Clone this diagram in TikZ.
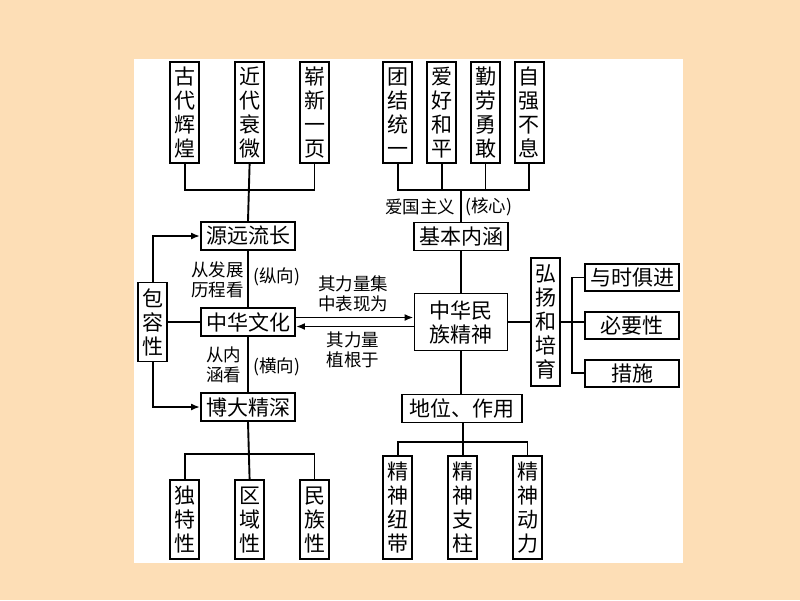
\documentclass[tikz,border=0pt]{standalone}
\usepackage{fontspec}
\newfontfamily\cjk{Noto Sans CJK SC}
\usetikzlibrary{positioning, arrows.meta}
\definecolor{peach}{RGB}{253,222,182}

\begin{document}
\begin{tikzpicture}[
  x=1pt, y=-1pt,
  box/.style={draw, line width=1.9pt, fill=white, inner sep=0pt, align=center, font=\cjk\fontsize{21}{24}\selectfont},
  vbox/.style={box, minimum width=29pt},
  hbox/.style={box, minimum width=94pt, minimum height=28pt},
  lbl/.style={inner sep=0pt, align=center, font=\cjk\fontsize{17.5}{20.5}\selectfont},
  link/.style={line width=1.9pt},
  arr/.style={link, -{Latex[length=9pt, width=7pt]}}
]
\fill[peach] (0,0) rectangle (800,600);
\fill[white] (134,59) rectangle (683,563);
\useasboundingbox (0,0) rectangle (800,600);

% left column
\node[vbox, minimum height=101pt] (gudai) at (184.7,112.5) {古\\代\\辉\\煌};
\node[vbox, minimum height=101pt, right=34pt of gudai] (jindai) {近\\代\\衰\\微};
\node[vbox, minimum height=101pt, right=34pt of jindai] (zhanxin) {崭\\新\\一\\页};
\node[hbox] (yuan) at (248,236) {源远流长};
\node[hbox] (wenhua) at (248,322) {中华文化};
\node[hbox] (boda) at (248,407) {博大精深};
\node[vbox, minimum height=79pt] (baorong) at (152.7,322) {包\\容\\性};
\node[vbox, minimum height=79pt] (dute) at (184.7,519.7) {独\\特\\性};
\node[vbox, minimum height=79pt, right=34pt of dute] (quyu) {区\\域\\性};
\node[vbox, minimum height=79pt, right=34pt of quyu] (minzu) {民\\族\\性};

% right column
\node[vbox, minimum height=101pt] (tuanjie) at (397.7,112.5) {团\\结\\统\\一};
\node[vbox, minimum height=101pt, right=13pt of tuanjie] (aihao) {爱\\好\\和\\平};
\node[vbox, minimum height=101pt, right=13pt of aihao] (qinlao) {勤\\劳\\勇\\敢};
\node[vbox, minimum height=101pt, right=13pt of qinlao] (ziqiang) {自\\强\\不\\息};
\node[hbox] (jiben) at (461,236.5) {基本内涵};
\node[box, minimum width=93pt, minimum height=57pt] (jingshen) at (461,322) {中华民\\族精神};
\node[hbox, minimum width=120pt] (diwei) at (462,408.5) {地位、作用};
\node[vbox, minimum height=103pt] (niudai) at (397.7,507.5) {精\\神\\纽\\带};
\node[vbox, minimum height=103pt, right=34pt of niudai] (zhizhu) {精\\神\\支\\柱};
\node[vbox, minimum height=103pt, right=34pt of zhizhu] (dongli) {精\\神\\动\\力};
\node[vbox, minimum height=128pt] (hongyang) at (545.5,322.3) {弘\\扬\\和\\培\\育};
\node[hbox, minimum height=27pt] (yushi) at (632,277.5) {与时俱进};
\node[hbox, minimum height=27pt, below=19pt of yushi] (biyao) {必要性};
\node[hbox, minimum height=27pt, below=19pt of biyao] (cuoshi) {措施};

% labels
\node[lbl] (lifazhan) at (217.5,280) {从发展\\历程看};
\node[lbl] (lizong) at (276.5,277) {(纵向)};
\node[lbl] (lineihan) at (223.5,365) {从内\\涵看};
\node[lbl] (liheng) at (276.5,367) {(横向)};
\node[lbl] (lijizhong) at (353,294) {其力量集\\中表现为};
\node[lbl] (lizhigen) at (353,350) {其力量\\植根于};
\node[lbl] (liaiguo) at (420,207) {爱国主义};
\node[lbl] (lihexin) at (488.5,207) {(核心)};

% buses
\coordinate (busA) at (248,190);
\coordinate (busB) at (248,454);
\coordinate (busC) at (461,190);
\coordinate (busD) at (461,441.7);
\coordinate (busE) at (572,322.3);

\draw[link] (gudai.south) |- (busA) -| (zhanxin.south);
\draw[link] (jindai.south) -- (yuan.north);
\draw[link] (yuan.south) -- (wenhua.north);
\draw[link] (wenhua.south) -- (boda.north);
\draw[link] (boda.south) -- (quyu.north);
\draw[link] (dute.north) |- (busB) -| (minzu.north);
\draw[link] (baorong.east) -- (wenhua.west);
\draw[arr] (baorong.north) |- (yuan.west);
\draw[arr] (baorong.south) |- (boda.west);

\draw[link] (tuanjie.south) |- (busC) -| (ziqiang.south);
\draw[link] (aihao.south) -- (aihao.south |- busC);
\draw[link] (qinlao.south) -- (qinlao.south |- busC);
\draw[link] (busC) -- (jiben.north);
\draw[link] (jiben.south) -- (jingshen.north);
\draw[link] (jingshen.south) -- (jingshen.south |- diwei.north);
\draw[link] (zhizhu.north) -- (zhizhu.north |- diwei.south);
\draw[link] (niudai.north) |- (busD) -| (dongli.north);
\draw[link] (jingshen.east) -- (jingshen.east -| hongyang.west);
\draw[link] (hongyang.east) -- (busE) -- (busE -| biyao.west);
\draw[link] (yushi.west) -| (busE) |- (cuoshi.west);

\draw[arr] ([yshift=4.5pt]wenhua.east) -- ([yshift=4.5pt]jingshen.west);
\draw[arr] ([yshift=-4.5pt]jingshen.west) -- ([yshift=-4.5pt]wenhua.east);
\end{tikzpicture}
\end{document}
